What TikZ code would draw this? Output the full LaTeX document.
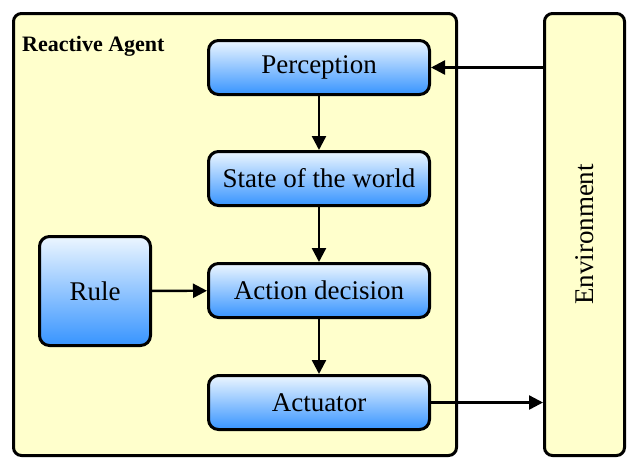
\documentclass[tikz,border=0pt]{standalone}
\usepackage{fontspec}
\setmainfont{Liberation Serif}
\usetikzlibrary{arrows.meta}
\definecolor{paleyellow}{RGB}{255,255,204}
\definecolor{gradtop}{RGB}{236,246,255}
\definecolor{gradbot}{RGB}{55,148,255}
\tikzset{
  container/.style={draw=black, line width=3pt, rounded corners=8pt, fill=paleyellow, inner sep=0pt},
  blockbox/.style={draw=black, line width=3pt, rounded corners=10pt, top color=gradtop, bottom color=gradbot, inner sep=0pt, font=\fontsize{27}{30}\selectfont},
  flow/.style={line width=2.4pt, -{Triangle[length=14pt,width=14pt]}},
}
\begin{document}
\begin{tikzpicture}[x=1pt,y=-1pt]
\useasboundingbox (0,0) rectangle (640,472);
\node[container, minimum width=443pt, minimum height=442pt] (agent) at (235,234.5) {};
\node[container, minimum width=80pt, minimum height=442pt] (env) at (584.5,234.5) {};
\node[anchor=base west, inner sep=0pt, font=\bfseries\fontsize{22}{24}\selectfont] (lbl) at (22,51) {Reactive Agent};
\node[rotate=90, inner sep=0pt, font=\fontsize{27}{30}\selectfont] (envlbl) at (env.center) {Environment};
\node[blockbox, minimum width=221pt, minimum height=54pt] (perc) at (319,67.5) {Perception};
\node[blockbox, minimum width=221pt, minimum height=54pt] (state) at (319,178.5) {State of the world};
\node[blockbox, minimum width=221pt, minimum height=54pt] (act) at (319,290.5) {Action decision};
\node[blockbox, minimum width=221pt, minimum height=54pt] (actu) at (319,402.5) {Actuator};
\node[blockbox, minimum width=111pt, minimum height=109pt] (rule) at (95,291) {Rule};
\draw[flow] (perc) -- (state);
\draw[flow] (state) -- (act);
\draw[flow] (act) -- (actu);
\draw[flow] (rule) -- (act);
\draw[flow] (env.west |- perc.east) -- (perc.east);
\draw[flow] (actu.east) -- (env.west |- actu.east);
\end{tikzpicture}
\end{document}
